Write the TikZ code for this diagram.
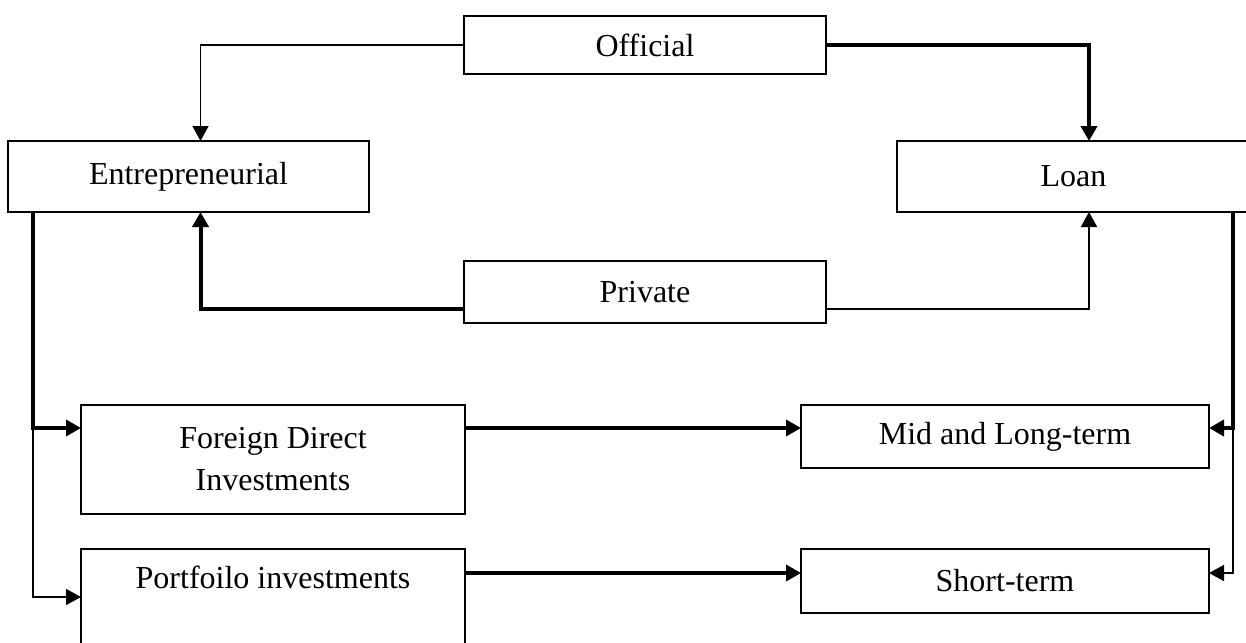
\documentclass[tikz,border=0pt]{standalone}
\usepackage{fontspec}
\setmainfont{Liberation Serif}
\usetikzlibrary{
  arrows.meta
}
\tikzset{
  % For framed boxes with a label.
  box/.style={
    draw,
    line,
    inner sep=0pt,
    outer sep=0pt,
    align=center,
    font=\fontsize{16pt}{21pt}\selectfont},
%
  % For thin connectors.
  line/.style={
    line width=0.75pt},
%
  % For heavy connectors.
  bold line/.style={
    line width=2pt},
%
  % For connectors with one arrow.
  direction/.style={
    line,
    -{Triangle[length=7.5pt,width=8pt]}},
  bold direction/.style={
    bold line,
    -{Triangle[length=7.5pt,width=8pt]}}
}

\begin{document}
\begin{tikzpicture}[x=0.5pt, y=-0.5pt]
  \clip (0,0) rectangle (1246,642);

  % Sources and kinds of capital.
  \node[box, minimum width=181pt, minimum height=29pt] (official) at (645,45) {Official};
  \node[box, minimum width=181pt, minimum height=31pt] (private) at (645,292) {Private};
  \node[box, minimum width=180.5pt, minimum height=35.5pt] (entre) at (188.5,176.5) {Entrepreneurial};
  \node[box, minimum width=176.5pt, minimum height=35.5pt] (loan) at (1073.5,176.5) {Loan};

  % Forms of capital.
  \node[box, minimum width=192pt, minimum height=54.5pt] (fdi) at (273,459.5) {Foreign Direct\\Investments};
  \node[box, minimum width=192pt, minimum height=48.5pt, text depth=20pt] (port) at (273,597.5) {Portfoilo investments};
  \node[box, minimum width=204pt, minimum height=31.5pt] (mid) at (1005,436.5) {Mid and Long-term};
  \node[box, minimum width=204pt, minimum height=32pt] (short) at (1005,581) {Short-term};

  % Points where the trunks meet the boxes.
  \coordinate (ltrunk) at ([xshift=12.5pt]entre.south west);
  \coordinate (rtrunk) at ([xshift=-8.5pt]loan.south east);
  \coordinate (fdiin) at ([yshift=-11.5pt]fdi.north west);
  \coordinate (portin) at ([yshift=-24pt]port.north west);
  \coordinate (shortin) at ([yshift=-12pt]short.north west);

  \draw[direction] (official.west) -| ([xshift=6pt]entre.north);
  \draw[bold direction] (official.east) -| ([xshift=7.75pt]loan.north);
  \draw[bold direction] ([yshift=-8.5pt]private.west) -| ([xshift=6pt]entre.south);
  \draw[direction] ([yshift=-8.5pt]private.east) -| ([xshift=7.75pt]loan.south);

  \draw[bold direction] (ltrunk) |- (fdiin);
  \draw[direction] (ltrunk |- fdiin) |- (portin);
  \draw[bold direction] (rtrunk) |- (fdiin -| mid.east);
  \draw[direction] (rtrunk |- fdiin) |- (shortin -| short.east);

  \draw[bold direction] (fdiin -| fdi.east) -- (fdiin -| mid.west);
  \draw[bold direction] (shortin -| port.east) -- (shortin);
\end{tikzpicture}
\end{document}
